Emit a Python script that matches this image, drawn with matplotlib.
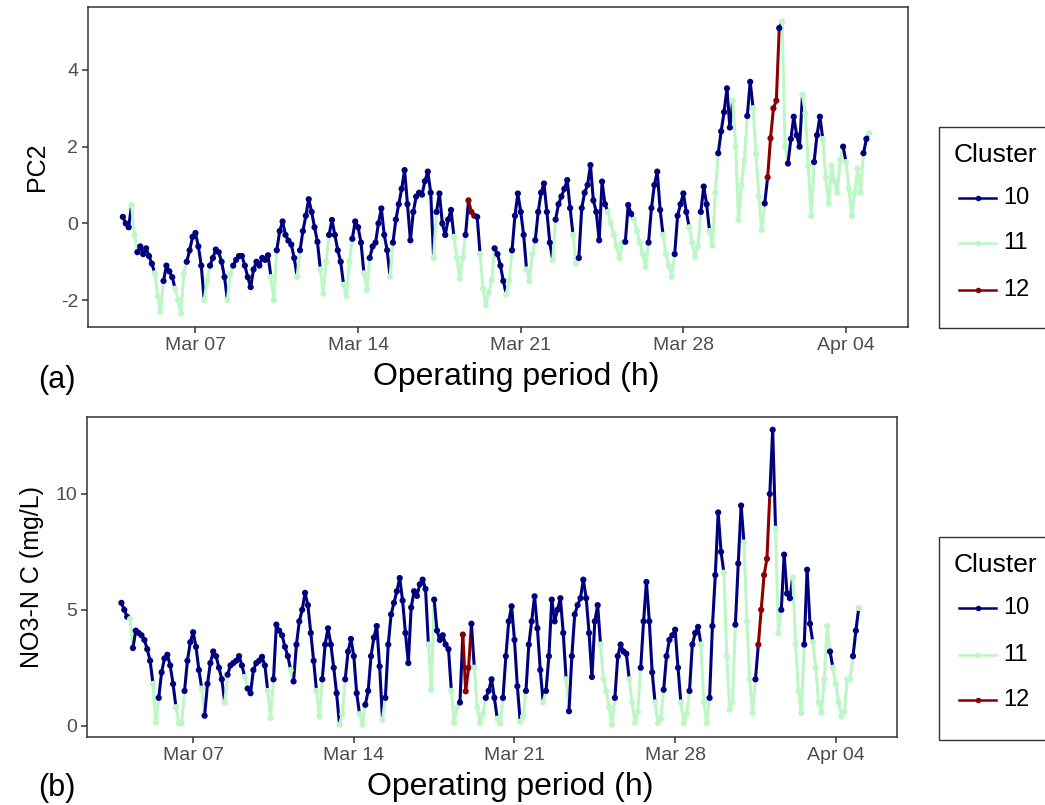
import numpy as np
import matplotlib
matplotlib.use("Agg")
import matplotlib.pyplot as plt
import matplotlib.dates as mdates
from matplotlib.collections import LineCollection
from matplotlib.lines import Line2D
from matplotlib.patches import Rectangle

plt.rcParams['font.family'] = ['Liberation Sans', 'DejaVu Sans']
plt.rcParams['axes.unicode_minus'] = False

# ---------------- data (3-hourly samples) ----------------
START = '2021-03-03T21:00'
STEP_HOURS = 3

# PC2, panel (a): first value Mar 3 21:00, then 8 values per day (00,03,...,21h)
pc2 = [0.17,
       0.0, -0.1, 0.48, -0.3, -0.75, -0.6, -0.8, -0.65,          # Mar 04
       -0.85, -1.05, -1.3, -1.9, -2.3, -1.5, -1.1, -1.25,        # Mar 05
       -1.4, -1.7, -2.0, -2.35, -1.3, -1.0, -0.7, -0.35,         # Mar 06
       -0.25, -0.6, -1.1, -2.0, -1.5, -1.1, -0.9, -0.68,         # Mar 07
       -0.75, -1.0, -1.4, -2.0, -1.3, -1.1, -0.95, -0.85,        # Mar 08
       -0.85, -1.1, -1.4, -1.66, -1.2, -1.0, -1.1, -0.9,         # Mar 09
       -0.95, -0.83, -1.4, -2.0, -0.7, -0.2, 0.05, -0.3,         # Mar 10
       -0.45, -0.55, -0.9, -1.39, -0.7, -0.2, 0.2, 0.63,         # Mar 11
       0.3, -0.1, -0.48, -1.2, -1.83, -1.0, -0.3, 0.09,          # Mar 12
       -0.3, -0.7, -1.0, -1.6, -1.9, -1.0, -0.4, 0.05,           # Mar 13
       -0.1, -0.5, -1.3, -1.74, -0.9, -0.6, -0.5, 0.0,           # Mar 14
       0.39, -0.3, -0.7, -1.39, -0.5, 0.1, 0.5, 0.9,             # Mar 15
       1.39, 0.5, -0.44, 0.3, 0.7, 0.8, 0.75, 1.1,               # Mar 16
       1.35, 0.8, -0.9, 0.3, 0.78, 0.0, -0.3, 0.1,               # Mar 17
       0.35, -0.35, -0.9, -1.44, -0.9, -0.3, 0.6, 0.3,           # Mar 18
       0.2, 0.17, -0.8, -1.7, -2.13, -1.8, -1.48, -0.65,         # Mar 19
       -0.8, -1.1, -1.5, -1.85, -1.5, -0.7, 0.2, 0.78,           # Mar 20
       0.3, -0.3, -1.2, -1.5, -0.8, -0.44, 0.3, 0.8,             # Mar 21
       1.04, 0.3, -0.5, -0.96, 0.1, 0.5, 0.7, 0.9,               # Mar 22
       1.13, 0.4, -0.3, -1.04, -0.9, 0.4, 0.8, 1.0,              # Mar 23
       1.52, 0.6, 0.3, -0.44, 1.09, 0.5, 0.3, 0.0,               # Mar 24
       -0.3, -0.6, -0.91, -0.5, -0.48, 0.48, 0.25, 0.1,          # Mar 25
       -0.2, -0.5, -0.8, -1.13, -0.5, 0.4, 1.0, 1.35,            # Mar 26
       0.35, -0.3, -0.8, -1.1, -1.39, -0.8, 0.2, 0.5,            # Mar 27
       0.78, 0.3, -0.1, -0.5, -0.87, -0.6, 0.3, 0.96,            # Mar 28
       0.5, -0.2, -0.57, 0.8, 1.83, 2.4, 2.9, 3.52,              # Mar 29
       2.5, 3.2, 2.0, 0.09, 1.0, 1.65, 2.8, 3.69,                # Mar 30
       3.0, 1.8, 0.7, -0.17, 0.52, 1.2, 2.22, 3.0,               # Mar 31
       3.2, 5.09, 5.26, 2.0, 1.56, 2.2, 2.78, 2.3,               # Apr 01
       2.0, 3.35, 2.87, 1.5, 0.19, 1.6, 2.3, 2.78,               # Apr 02
       2.2, 1.2, 0.52, 1.5, 1.1, 0.8, 1.65, 2.0,                 # Apr 03
       1.6, 0.9, 0.19, 0.8, 1.43, 0.8, 1.83, 2.2,                # Apr 04
       2.35]                                                     # Apr 05

pc2_cluster = [10,
       10, 10, 11, 11, 10, 10, 10, 10,
       10, 10, 11, 11, 11, 10, 10, 10,
       10, 11, 11, 11, 11, 10, 10, 10,
       10, 10, 10, 11, 11, 10, 10, 10,
       10, 10, 10, 11, 11, 10, 10, 10,
       10, 10, 10, 10, 10, 10, 10, 10,
       10, 10, 11, 11, 10, 10, 10, 10,
       10, 10, 10, 11, 10, 10, 10, 10,
       10, 10, 10, 11, 11, 11, 10, 10,
       10, 10, 10, 11, 11, 11, 10, 10,
       10, 10, 11, 11, 10, 10, 10, 10,
       10, 10, 10, 11, 10, 10, 10, 10,
       10, 10, 10, 10, 10, 10, 10, 10,
       10, 10, 11, 10, 10, 10, 10, 10,
       10, 11, 11, 11, 11, 10, 12, 12,
       12, 10, 11, 11, 11, 11, 11, 10,
       10, 10, 10, 11, 11, 10, 10, 10,
       10, 10, 11, 11, 11, 10, 10, 10,
       10, 10, 10, 11, 10, 10, 10, 10,
       10, 10, 11, 11, 10, 10, 10, 10,
       10, 10, 10, 10, 10, 10, 11, 11,
       11, 11, 11, 11, 10, 10, 10, 11,
       11, 11, 11, 11, 10, 10, 10, 10,
       10, 11, 11, 11, 11, 10, 10, 10,
       10, 10, 11, 11, 11, 11, 10, 10,
       10, 11, 11, 11, 10, 10, 10, 10,
       10, 11, 11, 11, 11, 11, 10, 10,
       11, 11, 11, 11, 10, 12, 12, 12,
       12, 10, 11, 11, 10, 10, 10, 10,
       10, 11, 11, 11, 11, 10, 10, 10,
       11, 11, 11, 11, 11, 11, 11, 10,
       11, 11, 11, 11, 11, 11, 10, 10,
       11]

# NO3-N C (mg/L), panel (b): same time stamps
no3 = [5.3,
       5.0, 4.7, 4.6, 3.35, 4.1, 4.0, 3.9, 3.7,                 # Mar 04
       3.3, 2.8, 1.8, 0.14, 1.2, 2.3, 2.9, 3.06,                # Mar 05
       2.6, 1.8, 0.8, 0.1, 0.1, 1.5, 2.8, 3.6,                  # Mar 06
       4.03, 3.4, 2.4, 1.6, 0.43, 1.8, 2.7, 3.2,                # Mar 07
       3.0, 2.5, 2.0, 1.0, 2.2, 2.6, 2.7, 2.8,                  # Mar 08
       3.0, 2.6, 2.1, 1.6, 1.4, 2.4, 2.7, 2.8,                  # Mar 09
       2.97, 2.6, 1.5, 0.33, 2.0, 4.36, 4.1, 3.9,               # Mar 10
       3.4, 3.0, 2.4, 1.91, 3.5, 4.5, 5.0, 5.73,                # Mar 11
       5.2, 4.0, 2.8, 1.5, 0.4, 2.0, 3.5, 4.2,                  # Mar 12
       3.5, 2.5, 1.4, 0.04, 0.5, 2.0, 3.2, 3.74,                # Mar 13
       3.0, 1.4, 0.5, 0.04, 0.9, 1.5, 3.0, 3.8,                 # Mar 14
       4.3, 2.56, 0.26, 1.2, 3.5, 4.8, 5.3, 5.8,                # Mar 15
       6.37, 5.4, 4.0, 2.7, 5.1, 5.8, 5.6, 6.1,                 # Mar 16
       6.3, 5.9, 3.5, 1.55, 5.44, 4.1, 3.7, 3.9,                # Mar 17
       3.5, 3.3, 1.5, 0.12, 0.8, 1.0, 3.93, 1.48,               # Mar 18
       2.5, 4.4, 2.5, 0.8, 0.12, 0.5, 1.2, 1.5,                 # Mar 19
       2.0, 1.2, 0.3, 0.1, 1.2, 3.0, 4.5, 5.15,                 # Mar 20
       3.7, 1.7, 0.17, 0.4, 1.5, 3.5, 4.5, 5.58,                # Mar 21
       4.2, 2.4, 1.0, 1.5, 3.0, 5.44, 4.5, 5.0,                 # Mar 22
       5.5, 4.0, 2.0, 0.62, 3.0, 4.8, 5.2, 5.5,                 # Mar 23
       6.3, 5.5, 4.0, 2.1, 4.5, 5.2, 3.5, 2.0,                  # Mar 24
       1.5, 0.8, 0.04, 1.2, 3.0, 3.5, 3.2, 3.1,                 # Mar 25
       2.0, 1.0, 0.12, 0.6, 2.5, 4.5, 6.2, 4.5,                 # Mar 26
       2.3, 1.0, 0.12, 0.3, 1.55, 3.0, 3.7, 3.9,                # Mar 27
       4.14, 2.5, 1.0, 0.1, 0.5, 1.5, 3.5, 4.0,                 # Mar 28
       4.26, 3.5, 1.0, 0.1, 1.2, 4.3, 6.5, 9.2,                 # Mar 29
       7.5, 6.6, 3.0, 0.7, 1.0, 4.36, 7.0, 9.5,                 # Mar 30
       7.9, 4.5, 2.0, 0.55, 2.0, 3.5, 5.0, 6.5,                 # Mar 31
       7.2, 10.0, 12.77, 8.5, 4.0, 5.0, 7.38, 5.7,              # Apr 01
       5.5, 6.4, 3.5, 1.5, 0.55, 3.5, 6.73, 4.4,                # Apr 02
       3.6, 2.5, 1.0, 0.55, 2.0, 4.3, 3.2, 2.5,                 # Apr 03
       1.8, 1.0, 0.4, 0.6, 2.0, 2.0, 3.0, 4.1,                  # Apr 04
       5.08]                                                    # Apr 05

no3_cluster = [10,
       10, 10, 11, 10, 10, 10, 10, 10,
       10, 10, 11, 11, 10, 10, 10, 10,
       10, 10, 11, 11, 11, 10, 10, 10,
       10, 10, 10, 11, 10, 10, 10, 10,
       10, 10, 10, 11, 10, 10, 10, 10,
       10, 10, 11, 10, 10, 10, 10, 10,
       10, 10, 11, 11, 10, 10, 10, 10,
       10, 10, 11, 10, 10, 10, 10, 10,
       10, 10, 10, 11, 11, 10, 10, 10,
       10, 10, 10, 11, 11, 10, 10, 10,
       10, 10, 11, 11, 10, 10, 10, 10,
       10, 10, 11, 10, 10, 10, 10, 10,
       10, 10, 10, 10, 10, 10, 10, 10,
       10, 10, 11, 11, 10, 10, 10, 10,
       10, 10, 11, 11, 11, 10, 12, 12,
       12, 10, 11, 11, 11, 11, 10, 10,
       10, 10, 11, 11, 10, 10, 10, 10,
       10, 10, 11, 11, 10, 10, 10, 10,
       10, 10, 11, 10, 10, 10, 10, 10,
       10, 10, 11, 10, 10, 10, 10, 10,
       10, 10, 10, 10, 10, 10, 11, 11,
       11, 11, 11, 10, 10, 10, 10, 10,
       11, 11, 11, 11, 10, 10, 10, 10,
       10, 11, 11, 11, 10, 10, 10, 10,
       10, 10, 11, 11, 11, 10, 10, 10,
       10, 11, 11, 11, 10, 10, 10, 10,
       10, 11, 11, 11, 11, 10, 10, 10,
       11, 11, 11, 11, 10, 12, 12, 12,
       12, 10, 10, 11, 11, 10, 10, 10,
       10, 11, 11, 11, 11, 10, 10, 10,
       11, 11, 11, 11, 11, 11, 10, 11,
       11, 11, 11, 11, 11, 11, 10, 10,
       11]

cluster_levels = [10, 11, 12]
tick_dates = ['2021-03-07', '2021-03-14', '2021-03-21', '2021-03-28', '2021-04-04']
x_limits = ['2021-03-02T09:00', '2021-04-06T16:00']
pc2_ticks = [-2, 0, 2, 4]
no3_ticks = [0, 5, 10]

# ---------------- styling ----------------
colors = {10: '#00007F', 11: '#BDF7C6', 12: '#8B0000'}
DARK = '#333333'
TICKC = '#4D4D4D'

times = np.datetime64(START) + np.arange(len(pc2)) * np.timedelta64(STEP_HOURS, 'h')
xnum = mdates.date2num(times)

W, H = 1045, 805
fig = plt.figure(figsize=(W / 100, H / 100), dpi=100)


def px_axes(left, top, right, bottom):
    return fig.add_axes([left / W, 1 - bottom / H, (right - left) / W, (bottom - top) / H])


def draw_panel(ax, y, cl, ylim, yticks, ylabel, ylab_x):
    y = np.asarray(y, float)
    pts = np.column_stack([xnum, y])
    segs = np.stack([pts[:-1], pts[1:]], axis=1)
    seg_cols = [colors[c] for c in cl[:-1]]
    ax.add_collection(LineCollection(segs, colors=seg_cols, linewidths=2.2,
                                     capstyle='round', joinstyle='round', zorder=2))
    ax.scatter(xnum, y, c=[colors[c] for c in cl], s=20, linewidths=0, zorder=3)
    ax.set_xlim(mdates.date2num(np.datetime64(x_limits[0])),
                mdates.date2num(np.datetime64(x_limits[1])))
    ax.set_ylim(*ylim)
    ax.set_xticks(mdates.date2num(np.array(tick_dates, dtype='datetime64[D]')))
    ax.xaxis.set_major_formatter(mdates.DateFormatter('%b %d'))
    ax.set_yticks(yticks)
    ax.tick_params(axis='both', direction='out', length=4, width=1.1, color=DARK,
                   labelcolor=TICKC, labelsize=14, pad=3)
    for s in ax.spines.values():
        s.set_color(DARK)
        s.set_linewidth(1.1)
    ax.set_xlabel('Operating period (h)', fontsize=23)
    ax.xaxis.set_label_coords(0.522, -0.108)
    ax.set_ylabel(ylabel, fontsize=18)
    ax.yaxis.set_label_coords(ylab_x, 0.5)


def draw_legend(left, top, bottom, rows):
    fig.patches.append(Rectangle((left / W, 1 - bottom / H), (1060 - left) / W,
                                 (bottom - top) / H, transform=fig.transFigure,
                                 facecolor='white', edgecolor=DARK, linewidth=1.0))
    fig.text((left + 15) / W, 1 - rows[0] / H, 'Cluster', fontsize=19,
             va='center', ha='left')
    for lev, yy in zip(cluster_levels, rows[1:]):
        yf = 1 - yy / H
        fig.add_artist(Line2D([959 / W, 996 / W], [yf, yf], transform=fig.transFigure,
                              color=colors[lev], linewidth=1.8))
        fig.add_artist(Line2D([977.5 / W], [yf], transform=fig.transFigure,
                              color=colors[lev], marker='o', markersize=4,
                              markeredgewidth=0))
        fig.text(1003 / W, yf, str(lev), fontsize=17, va='center', ha='left')


axa = px_axes(88, 7, 908, 327)
draw_panel(axa, pc2, pc2_cluster, (-2.70, 5.64), pc2_ticks, 'PC2', -0.047)
axb = px_axes(87, 417, 897, 737)
draw_panel(axb, no3, no3_cluster, (-0.49, 13.32), no3_ticks, 'NO3-N C (mg/L)', -0.053)

draw_legend(939, 127, 328, [155, 198, 243, 290])
draw_legend(939, 537, 740, [565, 608, 655, 700])

fig.text(57 / W, 1 - 380 / H, '(a)', fontsize=22, ha='center', va='center')
fig.text(57 / W, 1 - 788 / H, '(b)', fontsize=22, ha='center', va='center')

fig.savefig('out.png', dpi=100)
